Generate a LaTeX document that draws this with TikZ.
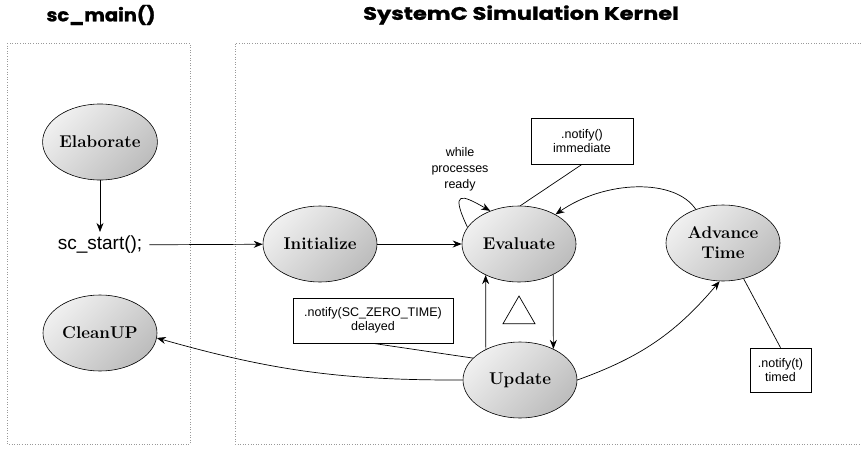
\documentclass[tikz,border=0pt]{standalone}
\usepackage{fontspec}
\newfontfamily\sansf{Liberation Sans}
\newfontfamily\titlef[FakeBold=1.2]{Poppins}
\usetikzlibrary{shapes.geometric,arrows.meta}
\begin{document}
\begin{tikzpicture}[x=1pt,y=-1pt,
 state/.style={ellipse, draw, line width=0.6pt, minimum width=114pt, minimum height=76pt, inner sep=0pt,
   top color=gray!12, bottom color=gray!52, shading angle=45,
   font=\fontsize{17}{20}\selectfont\bfseries, align=center},
 note/.style={draw, line width=0.7pt, inner sep=0pt, font=\sansf\fontsize{12.5}{14.5}\selectfont, align=center},
 frame/.style={gray!80, dotted, line width=0.6pt},
 arr/.style={-{Stealth[length=9pt,width=7pt]}, line width=0.7pt},
 ln/.style={line width=0.7pt},
 title/.style={font=\titlef\bfseries\fontsize{18}{20}\selectfont}
]
\useasboundingbox (0,0) rectangle (861,450);

\node[title] (t1) at (101,15) {\scalebox{1.08}[1]{sc\_main()}};
\node[title] (t2) at (521,15) {\scalebox{1.25}[1]{SystemC Simulation Kernel}};

\draw[frame] (7,43) rectangle (190,444);
\draw[frame] (861,43) -- (235,43) -- (235,444) -- (861,444);

\node[state] (elab) at (100,142) {Elaborate};
\node[font=\sansf\fontsize{19}{21}\selectfont, inner xsep=7pt, inner ysep=4pt] (start) at (100,245) {sc\_start();};
\node[state] (init) at (320,244) {Initialize};
\node[state] (eval) at (519,244) {Evaluate};
\node[state] (adv) at (723,243) {Advance\\Time};
\node[state] (upd) at (520,380) {Update};
\node[state] (clean) at (100,333) {CleanUP};

\node[note, minimum width=102pt, minimum height=46pt] (imm) at (582,141) {.notify()\\immediate};
\node[note, minimum width=160pt, minimum height=45pt] (zero) at (373,320.5) {.notify(SC\_ZERO\_TIME)\\delayed};
\node[note, minimum width=61pt, minimum height=44pt] (timed) at (780.5,370) {.notify(t)\\timed};
\node[font=\sansf\fontsize{12.5}{16}\selectfont, align=center] (loop) at (460,169) {while\\processes\\ready};

\node[draw, regular polygon, regular polygon sides=3, minimum size=37pt, inner sep=0pt, line width=0.7pt] (tri) at (519,314.5) {};

\draw[arr] (elab) -- (start);
\draw[arr] (start) -- (init);
\draw[arr] (init) -- (eval);
\draw[arr] (eval.162) .. controls +(-18,-38) and +(-28,-16) .. (eval.131);
\draw[ln] (imm.south) -- (eval.88);
\draw[arr] (adv.129) .. controls (675,178) and (605,180) .. (eval.39);
\draw[arr] (upd.138) -- (eval.223);
\draw[arr] (eval.318) -- (upd.43);
\draw[ln] (zero.south) -- (upd.155);
\draw[arr] (upd.east) to[bend right=15] (adv.265);
\draw[arr] (upd.west) to[bend left=8] (clean.-5);
\draw[ln] (timed.north) -- (adv.300);
\end{tikzpicture}
\end{document}
